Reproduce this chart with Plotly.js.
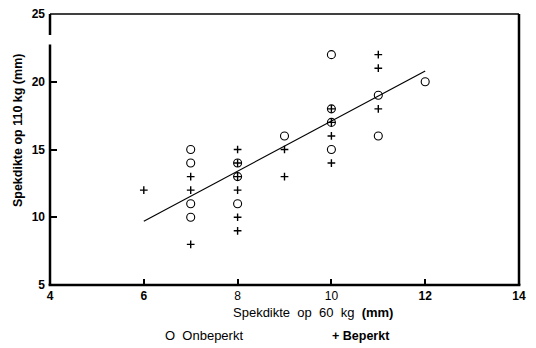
<!DOCTYPE html>
<html>
<head>
<meta charset="utf-8">
<script src="https://cdn.plot.ly/plotly-3.0.1.min.js"></script>
<style>html,body{margin:0;padding:0;background:#fff;}#chart{width:536px;height:348px;}</style>
</head>
<body>
<div id="chart"></div>
<script>
// Onbeperkt (open circles)
var onbX = [7, 7, 7, 7, 8, 8, 8, 9, 10, 10, 10, 10, 11, 11, 12];
var onbY = [15, 14, 11, 10, 14, 13, 11, 16, 22, 18, 17, 15, 19, 16, 20];
// Beperkt (plus signs)
var bepX = [6, 7, 7, 7, 8, 8, 8, 8, 8, 8, 9, 9, 10, 10, 10, 10, 11, 11, 11];
var bepY = [12, 13, 12, 8, 15, 14, 13, 12, 10, 9, 15, 13, 18, 17, 16, 14, 22, 21, 18];
// Regression line end points
var lineX = [6, 12];
var lineY = [9.7, 20.8];
var xTickVals = [4, 6, 8, 10, 12, 14];
var xTickText = ['<b>4</b>', '<b>6</b>', '8', '10', '<b>12</b>', '<b>14</b>'];
var yTickVals = [5, 10, 15, 20, 25];
var yTickText = ['5', '10', '15', '20', '25'];

var font = 'Liberation Sans, Arial, sans-serif';
var sp = '&nbsp;&nbsp;';

var traces = [
  {x: lineX, y: lineY, type: 'scatter', mode: 'lines', showlegend: false,
   line: {color: '#000', width: 1.2}, hoverinfo: 'skip'},
  {x: onbX, y: onbY, type: 'scatter', mode: 'markers', name: 'Onbeperkt', showlegend: false,
   marker: {symbol: 'circle-open', size: 8, color: '#000', line: {width: 1.1, color: '#000'}}},
  {x: bepX, y: bepY, type: 'scatter', mode: 'markers', name: 'Beperkt', showlegend: false,
   marker: {symbol: 'cross-thin-open', size: 5.5, color: '#000', line: {width: 1.4, color: '#000'}}}
];

var layout = {
  width: 536, height: 348,
  margin: {l: 50, r: 17, t: 14, b: 63},
  paper_bgcolor: '#fff', plot_bgcolor: '#fff',
  font: {family: font, color: '#000', size: 12},
  showlegend: false,
  xaxis: {range: [4, 14], tickvals: xTickVals, ticktext: xTickText, automargin: false,
          showgrid: false, zeroline: false, showline: false,
          ticks: 'inside', ticklen: 6, tickwidth: 2, ticklabelstandoff: 2,
          tickcolor: '#000', tickfont: {family: font, size: 12}},
  yaxis: {range: [5, 25], tickvals: yTickVals, ticktext: yTickText, automargin: false,
          showgrid: false, zeroline: false, showline: false,
          ticks: 'inside', ticklen: 7, tickwidth: 2, ticklabelstandoff: 4,
          tickcolor: '#000', tickfont: {family: font, size: 12, weight: 'bold'}},
  shapes: [
    // frame
    {type: 'line', xref: 'paper', yref: 'paper', x0: 0, x1: 1, y0: 1, y1: 1, line: {color: '#000', width: 1.5}},
    {type: 'line', xref: 'paper', yref: 'paper', x0: 1, x1: 1, y0: 0, y1: 1, line: {color: '#000', width: 2.5}},
    {type: 'line', xref: 'paper', yref: 'paper', x0: -0.003, x1: 1.003, y0: 0, y1: 0, line: {color: '#000', width: 2.5}},
    {type: 'line', xref: 'paper', yref: 'y', x0: 0, x1: 0, y0: 5, y1: 22.75, line: {color: '#000', width: 2.5}},
    {type: 'line', xref: 'paper', yref: 'y', x0: 0, x1: 0, y0: 23.45, y1: 25, line: {color: '#000', width: 2.5}}
  ],
  annotations: [
    {xref: 'paper', yref: 'paper', x: 0.56, y: -0.1, xanchor: 'center', yanchor: 'middle', showarrow: false,
     text: 'Spekdikte' + sp + 'op' + sp + '60' + sp + 'kg' + sp + '<b>(mm)</b>', font: {family: font, size: 13}},
    {xref: 'paper', yref: 'paper', x: -0.068, y: 0.572, xanchor: 'center', yanchor: 'middle', showarrow: false,
     textangle: -90, text: '<b>Spekdikte op 110 kg (mm)</b>', font: {family: font, size: 12.5}},
    {xref: 'paper', yref: 'paper', x: 0.24, y: -0.188, xanchor: 'left', yanchor: 'middle', showarrow: false,
     text: 'O' + sp + 'Onbeperkt', font: {family: font, size: 13}},
    {xref: 'paper', yref: 'paper', x: 0.596, y: -0.188, xanchor: 'left', yanchor: 'middle', showarrow: false,
     text: '<b>+ Beperkt</b>', font: {family: font, size: 12.5}}
  ]
};

Plotly.newPlot('chart', traces, layout, {displayModeBar: false, staticPlot: true});
</script>
</body>
</html>
